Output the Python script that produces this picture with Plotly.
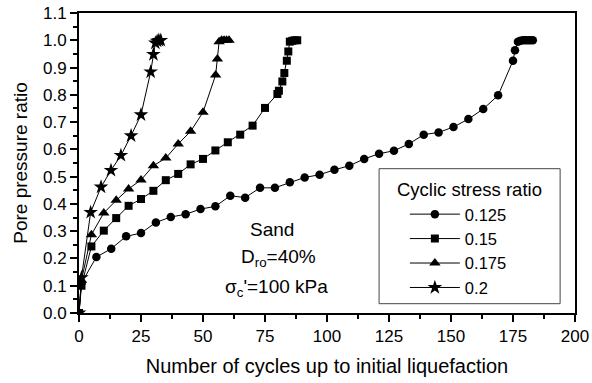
import plotly.graph_objects as go

# Number of cycles and pore pressure ratio for each cyclic stress ratio
csr_labels = ["0.125", "0.15", "0.175", "0.2"]

n_0125 = [0, 1, 7, 13, 19, 25, 31, 37, 43, 49, 55, 61, 67, 73, 79, 85, 91, 97, 103,
          109, 115, 121, 127, 133, 139, 145, 151, 157, 163, 169, 175, 175.8,
          177, 178, 179, 180, 181, 182, 183]
ru_0125 = [0, 0.11, 0.205, 0.236, 0.281, 0.293, 0.332, 0.352, 0.362, 0.381, 0.391,
           0.43, 0.423, 0.459, 0.459, 0.479, 0.497, 0.507, 0.525, 0.54, 0.565,
           0.584, 0.595, 0.62, 0.654, 0.662, 0.682, 0.711, 0.748, 0.798, 0.925,
           0.963, 0.995, 0.998, 1.0, 1.0, 1.0, 1.0, 1.0]

n_015 = [0, 1, 5, 10, 15, 20, 25, 30, 35, 40, 45, 50, 55, 60, 65, 70, 75, 80, 80.6,
         82, 82.8, 83.8, 84.4, 85, 86, 87, 88]
ru_015 = [0, 0.10, 0.244, 0.302, 0.348, 0.393, 0.418, 0.448, 0.487, 0.51, 0.545,
          0.565, 0.596, 0.626, 0.654, 0.687, 0.752, 0.803, 0.815, 0.849, 0.88,
          0.925, 0.959, 0.995, 0.998, 1.0, 1.0]

n_0175 = [0, 1, 5, 10, 15, 20, 25, 30, 35, 40, 45, 50, 55.1, 55.8, 56.5, 57.5, 58.5,
          59.5, 60.5]
ru_0175 = [0, 0.12, 0.287, 0.367, 0.413, 0.455, 0.488, 0.54, 0.568, 0.62, 0.666,
           0.736, 0.873, 0.931, 0.995, 1.0, 1.0, 1.0, 1.0]

n_02 = [0, 1, 4.7, 8.9, 12.9, 16.9, 21, 25, 28.9, 30, 30.8, 31.5, 32.2, 33]
ru_02 = [0, 0.13, 0.369, 0.462, 0.523, 0.578, 0.65, 0.727, 0.884, 0.948, 0.99,
         0.997, 1.0, 1.0]

x_ticks = [0, 25, 50, 75, 100, 125, 150, 175, 200]
y_ticks = [0.0, 0.1, 0.2, 0.3, 0.4, 0.5, 0.6, 0.7, 0.8, 0.9, 1.0, 1.1]

FONT = "Arial, Liberation Sans, sans-serif"

series = [
    (n_0125, ru_0125, "circle", 8.5),
    (n_015, ru_015, "square", 8),
    (n_0175, ru_0175, "triangle-up", 10),
    (n_02, ru_02, "star", 11),
]

fig = go.Figure()
for (xs, ys, sym, size), name in zip(series, csr_labels):
    fig.add_trace(go.Scatter(
        x=xs, y=ys, name=name, mode="lines+markers",
        line=dict(color="black", width=1),
        marker=dict(symbol=sym, size=size, color="black"),
    ))

axis_common = dict(
    showline=True, linecolor="black", linewidth=2, mirror=True,
    ticks="outside", ticklen=7, tickwidth=1.5, tickcolor="black",
    showgrid=False, zeroline=False, automargin=False,
    tickfont=dict(family=FONT, size=17, color="black"),
)

fig.update_xaxes(
    range=[0, 200], tickvals=x_ticks, ticktext=[str(v) for v in x_ticks],
    minor=dict(ticks="outside", ticklen=4, tickwidth=1.5, tickcolor="black", dtick=12.5, tick0=0),
    title=dict(text="Number of cycles up to initial liquefaction",
               font=dict(family=FONT, size=20, color="black"), standoff=14),
    **axis_common,
)
fig.update_yaxes(
    range=[0, 1.1], tickvals=y_ticks, ticktext=[f"{v:.1f}" for v in y_ticks],
    minor=dict(ticks="outside", ticklen=4, tickwidth=1.5, tickcolor="black", dtick=0.05, tick0=0),
    title=dict(text="Pore pressure ratio",
               font=dict(family=FONT, size=19, color="black"), standoff=10),
    **axis_common,
)

# Test conditions text block
note_font = dict(family=FONT, size=19, color="black")
fig.add_annotation(x=77.7, y=0.305, text="Sand", showarrow=False, font=note_font,
                   xanchor="center", yanchor="middle")
fig.add_annotation(x=80.4, y=0.2, text="D<sub>ro</sub>=40%", showarrow=False,
                   font=note_font, xanchor="center", yanchor="middle")
fig.add_annotation(x=79.5, y=0.09, text="σ<sub>c</sub>'=100 kPa", showarrow=False,
                   font=note_font, xanchor="center", yanchor="middle")

# Legend frame and heading
fig.add_shape(type="rect", xref="paper", yref="paper",
              x0=0.605, x1=0.970, y0=0.031, y1=0.481,
              line=dict(color="#444", width=1), fillcolor="white", layer="below")
fig.add_annotation(xref="paper", yref="paper", x=0.788, y=0.411,
                   text="Cyclic stress ratio", showarrow=False,
                   font=dict(family=FONT, size=18.5, color="black"),
                   xanchor="center", yanchor="middle")

fig.update_layout(
    width=592, height=383,
    margin=dict(l=79, r=17, t=13, b=70, autoexpand=False),
    paper_bgcolor="white", plot_bgcolor="white",
    font=dict(family=FONT, color="black"),
    legend=dict(
        font=dict(family=FONT, size=16.5, color="black"),
        x=0.657, y=0.387, xanchor="left", yanchor="top",
        borderwidth=0, bgcolor="rgba(0,0,0,0)",
        tracegroupgap=0, itemwidth=50,
    ),
)

fig.write_html("out.html")
